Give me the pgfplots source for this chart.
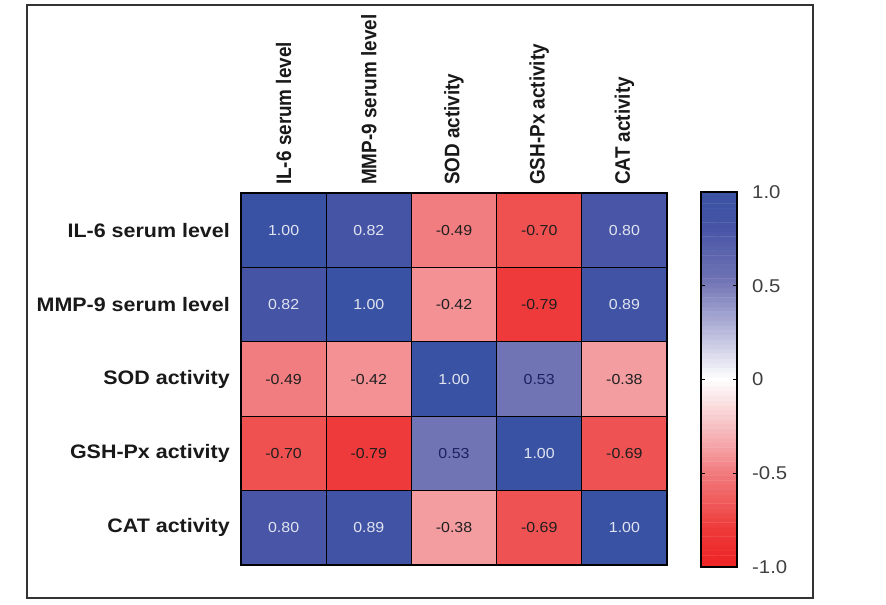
\documentclass[border=0pt]{standalone}
\usepackage{pgfplots}
\pgfplotsset{compat=1.18}
\usepackage{fontspec}
\setmainfont{Liberation Sans}[FakeStretch=1.1]
\newfontfamily\colfont{Liberation Sans}[FakeStretch=0.9]

\pgfplotsset{
    colormap={corr}{rgb255(0cm)=(238,35,36) rgb255(2.1cm)=(238,58,58) rgb255(3cm)=(239,80,80)
        rgb255(5.1cm)=(242,125,128) rgb255(6.2cm)=(244,157,160) rgb255(8cm)=(248,205,207)
        rgb255(10cm)=(255,255,255) rgb255(12.5cm)=(185,186,220) rgb255(15.3cm)=(112,115,180)
        rgb255(18.2cm)=(70,84,166) rgb255(20cm)=(57,82,163)},
}

\begin{document}
\begin{tikzpicture}
\path[use as bounding box] (0,0) rectangle (886bp,-605bp);
\draw[line width=1.6bp, black!80] (27bp,-5bp) rectangle (813bp,-598bp);
\begin{axis}[
    at={(241bp,-565bp)}, anchor=south west,
    scale only axis, width=426bp, height=372bp,
    xmin=-0.5, xmax=4.5, ymin=-0.5, ymax=4.5,
    y dir=reverse,
    axis on top,
    axis line style={line width=1.8bp, black},
    xtick={0,...,4}, ytick={0,...,4},
    xticklabels={IL-6 serum level, MMP-9 serum level, SOD activity, GSH-Px activity, CAT activity},
    yticklabels={IL-6 serum level, MMP-9 serum level, SOD activity, GSH-Px activity, CAT activity},
    xticklabel pos=upper,
    major tick length=0pt,
    minor xtick={0.5,1.5,2.5,3.5}, minor ytick={0.5,1.5,2.5,3.5},
    minor tick length=0pt,
    xminorgrids, yminorgrids,
    minor grid style={black, line width=0.9bp},
    xticklabel style={font=\fontsize{21bp}{23bp}\colfont\bfseries, rotate=90, anchor=west, inner sep=0pt, text=black!90},
    xticklabel shift=8bp,
    yticklabel style={font=\fontsize{19.5bp}{22bp}\selectfont\bfseries, anchor=east, inner sep=0pt, text=black!90},
    yticklabel shift=11bp,
    point meta min=-1, point meta max=1,
]
\addplot[matrix plot*, mesh/cols=5, point meta=explicit] table[meta=c] {
x y c
0 0 1.00
1 0 0.82
2 0 -0.49
3 0 -0.70
4 0 0.80
0 1 0.82
1 1 1.00
2 1 -0.42
3 1 -0.79
4 1 0.89
0 2 -0.49
1 2 -0.42
2 2 1.00
3 2 0.53
4 2 -0.38
0 3 -0.70
1 3 -0.79
2 3 0.53
3 3 1.00
4 3 -0.69
0 4 0.80
1 4 0.89
2 4 -0.38
3 4 -0.69
4 4 1.00
};
% cell values, dark text
\addplot[only marks, mark=none, point meta=explicit symbolic, nodes near coords,
    nodes near coords style={anchor=center, text=black!88, font=\fontsize{14.5bp}{16bp}\selectfont}]
    coordinates {(2,0)[-0.49] (3,0)[-0.70] (2,1)[-0.42] (3,1)[-0.79] (0,2)[-0.49] (1,2)[-0.42]
    (4,2)[-0.38] (0,3)[-0.70] (1,3)[-0.79] (4,3)[-0.69] (2,4)[-0.38] (3,4)[-0.69]};
% cell values, light text
\addplot[only marks, mark=none, point meta=explicit symbolic, nodes near coords,
    nodes near coords style={anchor=center, text={rgb,255:red,225;green,228;blue,240}, font=\fontsize{14.5bp}{16bp}\selectfont}]
    coordinates {(0,0)[1.00] (1,0)[0.82] (4,0)[0.80] (0,1)[0.82] (1,1)[1.00] (4,1)[0.89]
    (2,2)[1.00] (3,3)[1.00] (0,4)[0.80] (1,4)[0.89] (4,4)[1.00]};
% cell values, navy text
\addplot[only marks, mark=none, point meta=explicit symbolic, nodes near coords,
    nodes near coords style={anchor=center, text={rgb,255:red,30;green,32;blue,95}, font=\fontsize{14.5bp}{16bp}\selectfont}]
    coordinates {(3,2)[0.53] (2,3)[0.53]};
\end{axis}

% colour scale
\begin{axis}[
    at={(701bp,-567bp)}, anchor=south west,
    scale only axis, width=36bp, height=375bp,
    xmin=0, xmax=1, ymin=-1, ymax=1,
    axis on top,
    xtick=\empty,
    ytick={-1,-0.5,0,0.5,1}, yticklabels={-1.0,-0.5,0,0.5,1.0},
    ytick pos=both, yticklabel pos=right,
    tick align=inside, major tick length=4bp,
    major tick style={line width=1.4bp, black},
    axis line style={line width=1.8bp, black},
    yticklabel style={font=\fontsize{18.5bp}{20bp}\selectfont, text=black!75, anchor=west, inner sep=0pt},
    yticklabel shift=15bp,
    point meta min=-1, point meta max=1,
]
\addplot[matrix plot*, mesh/cols=2, point meta=y] coordinates {
(0,-1) (1,-1) (0,-0.975) (1,-0.975) (0,-0.95) (1,-0.95) (0,-0.925) (1,-0.925)
(0,-0.9) (1,-0.9) (0,-0.875) (1,-0.875) (0,-0.85) (1,-0.85) (0,-0.825) (1,-0.825)
(0,-0.8) (1,-0.8) (0,-0.775) (1,-0.775) (0,-0.75) (1,-0.75) (0,-0.725) (1,-0.725)
(0,-0.7) (1,-0.7) (0,-0.675) (1,-0.675) (0,-0.65) (1,-0.65) (0,-0.625) (1,-0.625)
(0,-0.6) (1,-0.6) (0,-0.575) (1,-0.575) (0,-0.55) (1,-0.55) (0,-0.525) (1,-0.525)
(0,-0.5) (1,-0.5) (0,-0.475) (1,-0.475) (0,-0.45) (1,-0.45) (0,-0.425) (1,-0.425)
(0,-0.4) (1,-0.4) (0,-0.375) (1,-0.375) (0,-0.35) (1,-0.35) (0,-0.325) (1,-0.325)
(0,-0.3) (1,-0.3) (0,-0.275) (1,-0.275) (0,-0.25) (1,-0.25) (0,-0.225) (1,-0.225)
(0,-0.2) (1,-0.2) (0,-0.175) (1,-0.175) (0,-0.15) (1,-0.15) (0,-0.125) (1,-0.125)
(0,-0.1) (1,-0.1) (0,-0.075) (1,-0.075) (0,-0.05) (1,-0.05) (0,-0.025) (1,-0.025)
(0,0) (1,0)
(0,0.025) (1,0.025) (0,0.05) (1,0.05) (0,0.075) (1,0.075) (0,0.1) (1,0.1)
(0,0.125) (1,0.125) (0,0.15) (1,0.15) (0,0.175) (1,0.175) (0,0.2) (1,0.2)
(0,0.225) (1,0.225) (0,0.25) (1,0.25) (0,0.275) (1,0.275) (0,0.3) (1,0.3)
(0,0.325) (1,0.325) (0,0.35) (1,0.35) (0,0.375) (1,0.375) (0,0.4) (1,0.4)
(0,0.425) (1,0.425) (0,0.45) (1,0.45) (0,0.475) (1,0.475) (0,0.5) (1,0.5)
(0,0.525) (1,0.525) (0,0.55) (1,0.55) (0,0.575) (1,0.575) (0,0.6) (1,0.6)
(0,0.625) (1,0.625) (0,0.65) (1,0.65) (0,0.675) (1,0.675) (0,0.7) (1,0.7)
(0,0.725) (1,0.725) (0,0.75) (1,0.75) (0,0.775) (1,0.775) (0,0.8) (1,0.8)
(0,0.825) (1,0.825) (0,0.85) (1,0.85) (0,0.875) (1,0.875) (0,0.9) (1,0.9)
(0,0.925) (1,0.925) (0,0.95) (1,0.95) (0,0.975) (1,0.975) (0,1) (1,1)
};
\end{axis}
\end{tikzpicture}
\end{document}
